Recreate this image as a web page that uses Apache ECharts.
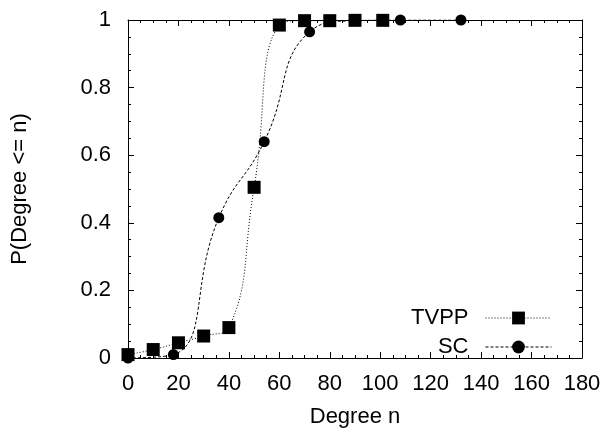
<!DOCTYPE html>
<html><head><meta charset="utf-8">
<script src="https://cdn.jsdelivr.net/npm/echarts@6/dist/echarts.min.js"></script>
<style>html,body{margin:0;padding:0;background:#fff}#c{width:607px;height:436px}</style>
</head><body><div id="c"></div>
<script>
const tvppX = [0, 10, 20, 30, 40, 50, 60, 70, 80, 90, 101];
const tvppY = [0.01, 0.025, 0.045, 0.065, 0.09, 0.505, 0.985, 0.998, 0.998, 0.999, 0.999];
const scX = [0, 18, 36, 54, 72, 90, 108, 132];
const scY = [0.0, 0.01, 0.415, 0.64, 0.965, 0.998, 1.0, 1.0];
const xTicks = {min: 0, max: 180, interval: 20};
const yTicks = {min: 0, max: 1, interval: 0.2};

const font = 'Liberation Sans, Arial, Helvetica, sans-serif';
const chart = echarts.init(document.getElementById('c'), null, {renderer: 'canvas'});
const axisCommon = {
  axisLine: {show: true, onZero: false, lineStyle: {color: '#000', width: 1}},
  axisTick: {show: true, inside: true, length: 6, lineStyle: {color: '#000'}},
  minorTick: {show: true, splitNumber: 4, length: 3, lineStyle: {color: '#000'}},
  splitLine: {show: false}
};
chart.setOption({
  animation: false,
  grid: {left: 128, right: 25, top: 20, bottom: 78},
  legend: {
    orient: 'vertical', right: 55, top: 307, align: 'right', padding: 0,
    itemWidth: 66, itemHeight: 16, itemGap: 7,
    textStyle: {fontFamily: font, fontSize: 22, color: '#000', padding: [0, 12, 0, 0]},
    data: [
      {name: 'TVPP', itemStyle: {color: '#000'}, lineStyle: {type: [1, 2], width: 1, color: '#000'}},
      {name: 'SC', itemStyle: {color: '#000'}, lineStyle: {type: [3, 2], width: 1, color: '#000'}}
    ]
  },
  xAxis: [
    Object.assign({type: 'value', position: 'bottom', min: xTicks.min, max: xTicks.max, interval: xTicks.interval,
      name: 'Degree n', nameLocation: 'middle', nameGap: 48,
      nameTextStyle: {fontFamily: font, fontSize: 22, color: '#000'},
      axisLabel: {fontFamily: font, fontSize: 22, color: '#000', margin: 15}}, axisCommon),
    Object.assign({type: 'value', position: 'top', min: xTicks.min, max: xTicks.max, interval: xTicks.interval,
      axisLabel: {show: false}}, axisCommon)
  ],
  yAxis: [
    Object.assign({type: 'value', position: 'left', min: yTicks.min, max: yTicks.max, interval: yTicks.interval,
      name: 'P(Degree <= n)', nameLocation: 'middle', nameGap: 97, nameRotate: 90,
      nameTextStyle: {fontFamily: font, fontSize: 22, color: '#000'},
      axisLabel: {fontFamily: font, fontSize: 22, color: '#000', margin: 17}}, axisCommon),
    Object.assign({type: 'value', position: 'right', min: yTicks.min, max: yTicks.max, interval: yTicks.interval,
      axisLabel: {show: false}}, axisCommon)
  ],
  series: [
    {name: 'TVPP', type: 'line', smooth: 0.5, symbol: 'rect', symbolSize: 13,
      data: tvppX.map((x, i) => [x, tvppY[i]]),
      itemStyle: {color: '#000'}, lineStyle: {color: '#000', width: 1, type: [1, 2]}},
    {name: 'SC', type: 'line', smooth: 0.5, symbol: 'circle', symbolSize: 11,
      data: scX.map((x, i) => [x, scY[i]]),
      itemStyle: {color: '#000'}, lineStyle: {color: '#000', width: 1, type: [3, 2]}}
  ]
});
</script></body></html>
